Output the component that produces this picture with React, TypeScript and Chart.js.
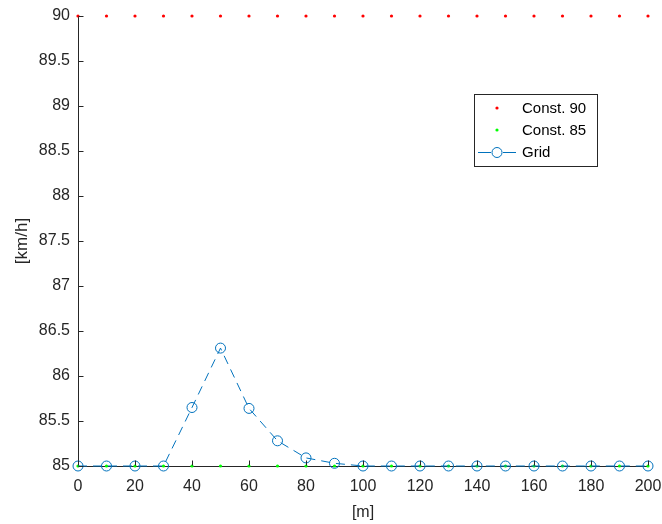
import React, { useEffect, useRef } from 'react';
import { Chart, registerables } from 'chart.js';

Chart.register(...registerables);

const xPositions = [0, 10, 20, 30, 40, 50, 60, 70, 80, 90, 100, 110, 120, 130, 140, 150, 160, 170, 180, 190, 200];
const const90 = [90, 90, 90, 90, 90, 90, 90, 90, 90, 90, 90, 90, 90, 90, 90, 90, 90, 90, 90, 90, 90];
const const85 = [85, 85, 85, 85, 85, 85, 85, 85, 85, 85, 85, 85, 85, 85, 85, 85, 85, 85, 85, 85, 85];
const gridValues = [85, 85, 85, 85, 85.65, 86.31, 85.64, 85.28, 85.09, 85.03, 85, 85, 85, 85, 85, 85, 85, 85, 85, 85, 85];
const legendLabels = ['Const. 90', 'Const. 85', 'Grid'];
const xTitle = '[m]';
const yTitle = '[km/h]';

const FONT = "'Liberation Sans', Arial, Helvetica, sans-serif";
const AXIS_COLOR = '#262626';
const RED = '#ff0000';
const GREEN = '#00ff00';
const BLUE = '#0072BD';

const toPoints = (ys: number[]) => xPositions.map((x, i) => ({ x, y: ys[i] }));

const matlabPlugin = {
  id: 'matlabAxes',
  afterDatasetsDraw(chart: any) {
    const { ctx, chartArea, scales } = chart;
    ctx.save();
    ctx.strokeStyle = AXIS_COLOR;
    ctx.lineWidth = 1;
    ctx.setLineDash([]);
    ctx.beginPath();
    const left = Math.round(chartArea.left) + 0.5;
    const bottom = Math.round(chartArea.bottom) - 0.5;
    scales.y.ticks.forEach((t: any) => {
      const p = Math.round(scales.y.getPixelForValue(t.value)) + 0.5;
      ctx.moveTo(left, p);
      ctx.lineTo(left + 5, p);
    });
    scales.x.ticks.forEach((t: any) => {
      const p = Math.round(scales.x.getPixelForValue(t.value)) + 0.5;
      ctx.moveTo(p, bottom);
      ctx.lineTo(p, bottom - 5);
    });
    ctx.stroke();

    // legend box
    const bx = 474.5, by = 94.5, bw = 123, bh = 72;
    ctx.fillStyle = '#ffffff';
    ctx.fillRect(bx, by, bw, bh);
    ctx.strokeStyle = AXIS_COLOR;
    ctx.strokeRect(bx, by, bw, bh);

    const rows = [108, 130, 152];
    const mx = 497;
    ctx.fillStyle = RED;
    ctx.beginPath();
    ctx.arc(mx, rows[0], 1.6, 0, Math.PI * 2);
    ctx.fill();
    ctx.fillStyle = GREEN;
    ctx.beginPath();
    ctx.arc(mx, rows[1], 1.6, 0, Math.PI * 2);
    ctx.fill();
    ctx.strokeStyle = BLUE;
    ctx.beginPath();
    ctx.moveTo(478, rows[2] + 0.5);
    ctx.lineTo(491, rows[2] + 0.5);
    ctx.moveTo(503, rows[2] + 0.5);
    ctx.lineTo(516, rows[2] + 0.5);
    ctx.stroke();
    ctx.beginPath();
    ctx.arc(mx, rows[2] + 0.5, 5, 0, Math.PI * 2);
    ctx.stroke();

    ctx.fillStyle = '#000000';
    ctx.font = `15px ${FONT}`;
    ctx.textAlign = 'left';
    ctx.textBaseline = 'middle';
    legendLabels.forEach((lab, i) => ctx.fillText(lab, 522, rows[i] + 1));
    ctx.restore();
  },
};

export default function App() {
  const ref = useRef<HTMLCanvasElement | null>(null);
  useEffect(() => {
    if (!ref.current) return;
    const chart = new Chart(ref.current, {
      type: 'scatter',
      data: {
        datasets: [
          {
            label: legendLabels[2],
            data: toPoints(gridValues),
            showLine: true,
            borderColor: BLUE,
            borderWidth: 1,
            borderDash: [9, 6],
            pointStyle: 'circle',
            pointRadius: 5,
            pointBorderWidth: 1,
            pointBorderColor: BLUE,
            pointBackgroundColor: 'rgba(0,0,0,0)',
            clip: false,
            tension: 0,
          } as any,
          {
            label: legendLabels[1],
            data: toPoints(const85),
            showLine: false,
            pointRadius: 1.6,
            pointBorderWidth: 0,
            pointBackgroundColor: GREEN,
            pointBorderColor: GREEN,
            clip: false,
          } as any,
          {
            label: legendLabels[0],
            data: toPoints(const90),
            showLine: false,
            pointRadius: 1.6,
            pointBorderWidth: 0,
            pointBackgroundColor: RED,
            pointBorderColor: RED,
            clip: false,
          } as any,
        ],
      },
      options: {
        animation: false,
        responsive: false,
        maintainAspectRatio: false,
        events: [],
        layout: { padding: { left: 0, top: 16, right: 14, bottom: 0 } },
        plugins: { legend: { display: false }, tooltip: { enabled: false } },
        scales: {
          x: {
            type: 'linear',
            min: 0,
            max: 200,
            afterFit: (s: any) => { s.height = 58; s.paddingLeft = 0; s.paddingRight = 0; },
            grid: { display: true, drawOnChartArea: false, drawTicks: false },
            border: { display: true, color: AXIS_COLOR, width: 1 },
            ticks: {
              stepSize: 20,
              autoSkip: false,
              maxRotation: 0,
              padding: 11,
              color: AXIS_COLOR,
              font: { family: FONT, size: 16 },
              callback: (v: any) => String(Number(v)),
            },
            title: {
              display: true,
              text: xTitle,
              color: AXIS_COLOR,
              font: { family: FONT, size: 16 },
              padding: { top: 0, bottom: 2 },
            },
          },
          y: {
            type: 'linear',
            min: 85,
            max: 90,
            afterFit: (s: any) => { s.width = 78; s.paddingTop = 0; s.paddingBottom = 0; },
            grid: { display: true, drawOnChartArea: false, drawTicks: false },
            border: { display: true, color: AXIS_COLOR, width: 1 },
            ticks: {
              stepSize: 0.5,
              autoSkip: false,
              padding: 8,
              color: AXIS_COLOR,
              font: { family: FONT, size: 16 },
              callback: (v: any) => String(Number(v)),
            },
            title: {
              display: true,
              text: yTitle,
              color: AXIS_COLOR,
              font: { family: FONT, size: 17 },
              padding: { top: 12, bottom: 0 },
            },
          },
        },
      },
      plugins: [matlabPlugin],
    });
    return () => chart.destroy();
  }, []);
  return (
    <div style={{ position: 'fixed', left: 0, top: 0, width: 662, height: 524, background: '#fff' }}>
      <canvas ref={ref} width={662} height={524} style={{ width: 662, height: 524 }} />
    </div>
  );
}
